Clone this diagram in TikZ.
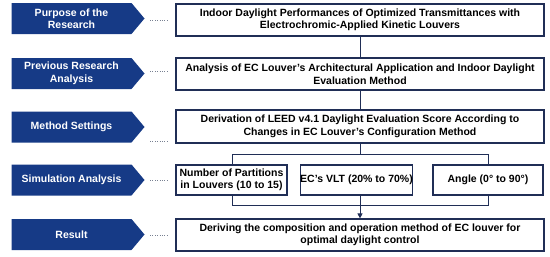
\documentclass[tikz,border=0pt]{standalone}
\usepackage{fontspec}
\setmainfont{Liberation Sans}
\usetikzlibrary{shapes.symbols,arrows.meta,positioning}
\definecolor{navyfill}{RGB}{22,58,134}
\definecolor{navyline}{RGB}{32,46,86}
\definecolor{dotgray}{RGB}{120,128,145}

\begin{document}
\begin{tikzpicture}[x=1pt,y=-1pt,
    stage/.style={signal, signal to=east, signal pointer angle=100, fill=navyfill,
      text=white, font=\bfseries\fontsize{10.5}{12.5}\selectfont, align=center,
      minimum width=133pt, minimum height=31pt, inner sep=0pt},
    contentbox/.style={draw=navyline, line width=1.2pt, fill=white,
      font=\bfseries\fontsize{10.5}{12.5}\selectfont, align=center,
      minimum width=368pt, minimum height=32pt, inner sep=0pt},
    factorbox/.style={contentbox, minimum height=30pt},
    link/.style={draw=navyline, line width=0.9pt},
    leader/.style={dotgray, line width=1pt, dash pattern=on 1pt off 1.4pt}]
        \useasboundingbox (0,0) rectangle (550,257);
        %Connectors behind the boxes
        \coordinate (bl) at (232,154);
        \coordinate (br) at (488,205);
        \draw[link] (bl) rectangle (br);
        %Stages
        \node[stage] (s1) at (71.5,18.5) {Purpose of the\\Research};
        \node[stage] (s2) at (71.5,73.5) {Previous Research\\Analysis};
        \node[stage] (s3) at (71.5,127) {Method Settings};
        \node[stage] (s4) at (71.5,180) {Simulation Analysis};
        \node[stage] (s5) at (71.5,234.5) {Result};
        %Contents
        \node[contentbox] (c1) at (360,20) {Indoor Daylight Performances of Optimized Transmittances with\\Electrochromic-Applied Kinetic Louvers};
        \node[contentbox] (c2) at (360,74) {Analysis of EC Louver’s Architectural Application and Indoor Daylight\\Evaluation Method};
        \node[contentbox, minimum height=33pt] (c3) at (360,126.5) {Derivation of LEED v4.1 Daylight Evaluation Score According to\\Changes in EC Louver’s Configuration Method};
        \node[factorbox, minimum width=111pt] (f1) at (231.5,180) {Number of Partitions\\in Louvers (10 to 15)};
        \node[factorbox, minimum width=103pt] (f2) at (356.5,180) {EC’s VLT (20\% to 70\%)};
        \node[factorbox, minimum width=110pt] (f3) at (488,180) {Angle (0° to 90°)};
        \node[contentbox] (c5) at (360,235) {Deriving the composition and operation method of EC louver for\\optimal daylight control};
        %Leaders
        \draw[leader] (150,20) -- (168,20);
        \draw[leader] (150,71.5) -- (168,71.5);
        \draw[leader] (150,141.5) -- (168,141.5);
        \draw[leader] (150,180) -- (168,180);
        \draw[leader] (150,235) -- (168,235);
        %Links
        \draw[link] (c1) -- (c2);
        \draw[link] (c2) -- (c3);
        \draw[link] (c3.south) -- (bl -| c3.south);
        \draw[link] (f2.south -| c3.south) -- (br -| c3.south);
        \draw[link, -{Triangle[length=5pt,width=5pt]}] (br -| c3.south) -- (c5.north);
\end{tikzpicture}
\end{document}
